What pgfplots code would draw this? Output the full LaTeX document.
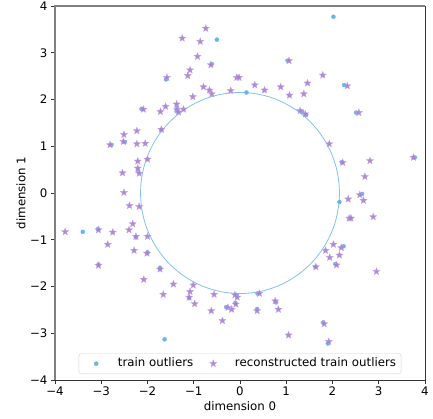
\documentclass[border=0pt]{standalone}
\usepackage{fontspec}
\setmainfont{DejaVu Sans}
\usepackage{pgfplots}
\pgfplotsset{compat=1.18}
\definecolor{dotblue}{HTML}{66B5EC}
\definecolor{circblue}{HTML}{80C2EE}
\definecolor{starpurple}{HTML}{A87DD3}
\pgfdeclareplotmark{fstar}{%
  \pgfpathmoveto{\pgfpointpolar{90}{\pgfplotmarksize}}%
  \pgfpathlineto{\pgfpointpolar{126}{0.42\pgfplotmarksize}}%
  \pgfpathlineto{\pgfpointpolar{162}{\pgfplotmarksize}}%
  \pgfpathlineto{\pgfpointpolar{198}{0.42\pgfplotmarksize}}%
  \pgfpathlineto{\pgfpointpolar{234}{\pgfplotmarksize}}%
  \pgfpathlineto{\pgfpointpolar{270}{0.42\pgfplotmarksize}}%
  \pgfpathlineto{\pgfpointpolar{306}{\pgfplotmarksize}}%
  \pgfpathlineto{\pgfpointpolar{342}{0.42\pgfplotmarksize}}%
  \pgfpathlineto{\pgfpointpolar{18}{\pgfplotmarksize}}%
  \pgfpathlineto{\pgfpointpolar{54}{0.42\pgfplotmarksize}}%
  \pgfpathclose
  \pgfusepathqfillstroke}
\pgfplotstableread{
x y
-0.74 3.52
-1.25 3.31
-0.86 3.24
-0.92 2.92
-0.63 2.74
-1.08 2.63
-1.13 2.51
-1.58 2.47
-0.79 2.27
-0.66 2.20
-0.61 2.12
-1.02 2.06
-0.20 2.19
-0.07 2.47
-0.02 2.47
-1.37 1.90
-1.36 1.78
-1.33 1.73
-1.22 1.79
-1.61 1.85
-1.72 1.74
-2.09 1.79
-1.70 1.36
-2.23 1.33
-2.51 1.25
-2.52 1.10
-2.81 1.03
-2.23 1.05
-2.05 1.06
-2.21 0.68
-2.00 0.72
-2.21 0.53
-2.18 0.42
-2.54 0.43
-2.51 0.01
-2.39 -0.27
-2.18 -0.29
-2.32 -0.66
-2.40 -0.79
-2.25 -0.93
-2.00 -0.93
-3.78 -0.83
-3.06 -0.79
-2.75 -0.84
-2.86 -1.10
-2.29 -1.23
-2.01 -1.29
-3.06 -1.55
-1.73 -1.63
-2.08 -1.85
-1.44 -1.95
-1.01 -1.97
-1.66 -2.17
-1.08 -2.11
-1.10 -2.23
-0.98 -2.37
-0.56 -2.17
-0.62 -2.52
-0.38 -2.73
-0.26 -2.45
-0.18 -2.49
-0.11 -2.18
-0.06 -2.23
-0.09 -2.38
0.42 -2.15
0.76 -2.31
0.83 -2.49
0.37 -2.52
1.82 -2.80
1.05 -3.04
1.92 -3.18
1.64 -1.58
1.85 -1.23
1.94 -1.38
2.02 -1.10
2.19 -1.17
2.15 -1.33
2.09 -1.54
2.95 -1.68
2.36 -0.54
2.40 -0.54
2.88 -0.51
2.34 -0.13
2.59 -0.04
2.67 -0.16
3.75 0.76
2.22 0.65
2.81 0.69
2.70 0.35
1.93 1.05
1.30 1.76
1.41 1.69
2.57 1.72
2.32 2.29
1.06 2.83
1.79 2.52
1.46 2.35
1.38 2.12
1.07 2.09
0.88 2.27
0.53 2.20
0.32 2.31
}\recon
\pgfplotstableread{
x y
-0.50 3.28
2.02 3.77
-3.40 -0.83
-1.63 -3.13
0.14 2.15
2.15 -0.19
-0.61 2.76
-1.60 2.43
-2.13 1.80
-2.49 1.09
-2.78 1.03
-2.20 0.48
-2.25 -0.95
-2.00 -1.27
-3.07 -0.77
-3.06 -1.53
-1.73 -1.60
-1.10 -2.25
-0.30 -2.44
-0.10 -2.35
-0.07 -2.18
0.38 -2.15
0.37 -2.48
0.78 -2.34
1.80 -2.77
1.90 -3.22
1.63 -1.58
2.06 -1.52
2.24 -1.14
2.20 0.66
2.64 -0.02
3.78 0.76
2.51 1.72
2.25 2.31
1.03 2.83
1.34 1.74
1.43 1.67
-0.05 2.48
-1.36 1.82
-1.37 1.75
-1.70 1.35
}\train
\begin{document}
\begin{tikzpicture}
\begin{axis}[
  width=370pt, height=374pt, scale only axis,
  xmin=-4, xmax=4, ymin=-4, ymax=4,
  xtick={-4,-3,...,4}, ytick={-4,-3,...,4},
  xticklabels={−4,−3,−2,−1,0,1,2,3,4},
  yticklabels={−4,−3,−2,−1,0,1,2,3,4},
  tick align=outside, tick pos=left,
  major tick length=4pt,
  every tick/.style={black!80, line width=0.9pt},
  axis line style={draw=none},
  ticklabel style={font=\fontsize{11.8}{14}\selectfont, black},
  xticklabel style={yshift=1pt},
  xlabel={dimension 0}, ylabel={dimension 1},
  label style={font=\fontsize{11.8}{14}\selectfont},
  xlabel style={at={(0.5,0)}, anchor=north, yshift=-18pt},
  ylabel style={at={(0,0.5)}, anchor=south, xshift=0pt, yshift=26pt},
  clip=false,
  legend columns=2,
  legend style={at={(0.5,0)}, anchor=south, yshift=6pt, draw=black!18, rounded corners=2.5pt,
    font=\fontsize{11.8}{14}\selectfont, inner xsep=5pt, inner ysep=3pt,
    nodes={inner xsep=0pt, inner ysep=1.5pt, text height=8.8pt, text depth=2.5pt},
    /tikz/every even column/.append style={column sep=7.7pt}},
]
\addplot[only marks, mark=*, mark size=2pt, draw=dotblue, fill=dotblue,
  legend image code/.code={\path[draw=none,fill=none] (-12.3pt,0pt) -- (21.7pt,0pt); \fill[dotblue] (0,0) circle (2pt);}] table[x=x,y=y] {\train};
\addlegendentry{train outliers}
\addplot[only marks, mark=fstar, mark size=3.8pt, draw=starpurple!70!white, fill=starpurple, line width=0.3pt, opacity=0.9,
  legend image code/.code={\path[draw=none,fill=none] (-12.3pt,0pt) -- (21.7pt,0pt); \path[draw=starpurple!70!white, fill=starpurple, line width=0.3pt, opacity=0.9] plot[only marks, mark=fstar, mark size=3.8pt] coordinates {(0,0)};}] table[x=x,y=y] {\recon};
\addlegendentry{reconstructed train outliers}
\draw[circblue, line width=0.8pt] (axis cs:0,0) ellipse [x radius=2.15, y radius=2.15];
\end{axis}
\draw[black!50, line width=1.6pt] (current axis.south west) -- (current axis.north west) -- (current axis.north east);
\draw[black!80, line width=0.9pt] (current axis.south west) -- (current axis.south east) -- (current axis.north east);
\pgfresetboundingbox
\path (current axis.south west) ++(-55pt,-38pt) rectangle ++(433pt,418pt);
\end{tikzpicture}
\end{document}
